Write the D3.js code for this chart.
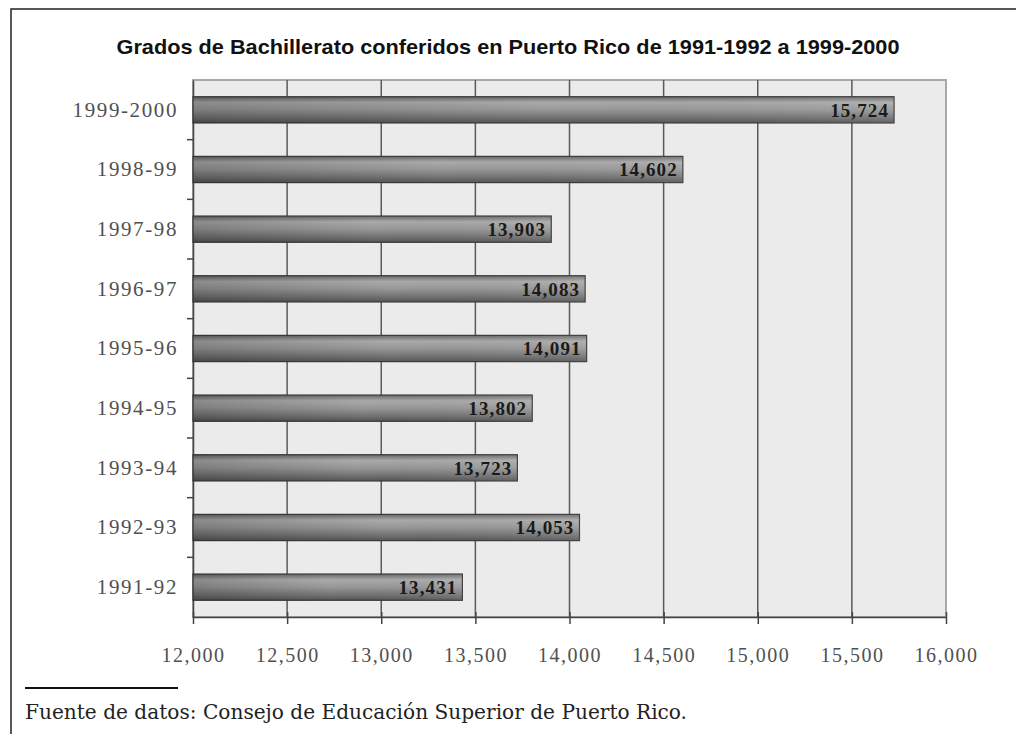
<!DOCTYPE html>
<html><head><meta charset="utf-8">
<script src="https://cdn.jsdelivr.net/npm/d3@7/dist/d3.min.js"></script>
<style>html,body{margin:0;padding:0;background:#fff;}svg{display:block;}</style>
</head><body>
<svg id="c" width="1016" height="734"></svg>
<script>
const categories = ["1999-2000","1998-99","1997-98","1996-97","1995-96","1994-95","1993-94","1992-93","1991-92"];
const values = [15724,14602,13903,14083,14091,13802,13723,14053,13431];
const tickValues = [12000,12500,13000,13500,14000,14500,15000,15500,16000];
const titleText = "Grados de Bachillerato conferidos en Puerto Rico de 1991-1992 a 1999-2000";
const sourceText = "Fuente de datos: Consejo de Educación Superior de Puerto Rico.";

const svg = d3.select("#c");
const m = {left:193, right:946, top:80, bottom:617};

const fmt = d3.format(",");
const x = d3.scaleLinear().domain([12000,16000]).range([m.left, m.right]);
const y = d3.scaleBand().domain(categories).range([m.top, m.bottom]).paddingInner(0.56).paddingOuter(0.28);

// frame
svg.append("path").attr("d","M11,734 L11,9 L1016,9").attr("fill","none").attr("stroke","#222").attr("stroke-width",1.5);

// title
svg.append("text").attr("x",508).attr("y",54).attr("text-anchor","middle")
  .attr("font-family","Liberation Sans, Arial, sans-serif").attr("font-weight","bold")
  .attr("font-size",21).attr("fill","#111")
  .attr("textLength",783).attr("lengthAdjust","spacingAndGlyphs").text(titleText);

// gradient
const defs = svg.append("defs");
const g = defs.append("linearGradient").attr("id","bar").attr("x1",0).attr("y1",0).attr("x2",0).attr("y2",1);
[[0,"#686868"],[0.22,"#aaaaaa"],[0.5,"#979797"],[0.8,"#727272"],[1,"#555555"]].forEach(([o,c])=>g.append("stop").attr("offset",o).attr("stop-color",c));
const gh = defs.append("linearGradient").attr("id","barh").attr("x1",0).attr("y1",0).attr("x2",1).attr("y2",0);
[[0,"#000",0.18],[0.5,"#000",0.0],[1,"#fff",0.08]].forEach(([o,c,a])=>gh.append("stop").attr("offset",o).attr("stop-color",c).attr("stop-opacity",a));

// plot background
svg.append("rect").attr("x",m.left).attr("y",m.top).attr("width",m.right-m.left).attr("height",m.bottom-m.top)
  .attr("fill","#ebebeb").attr("stroke","#a8a8a8").attr("stroke-width",2);

// gridlines
svg.append("g").selectAll("line").data(tickValues.slice(1,-1)).join("line")
  .attr("x1",d=>x(d)).attr("x2",d=>x(d)).attr("y1",m.top).attr("y2",m.bottom)
  .attr("stroke","#5a5a5a").attr("stroke-width",1.5);

const serif = "Liberation Serif, Times New Roman, serif";

// x axis
const xAxis = svg.append("g").attr("transform",`translate(0,${m.bottom})`)
  .call(d3.axisBottom(x).tickValues(tickValues).tickFormat(fmt).tickSizeInner(7).tickSizeOuter(0).tickPadding(24));
xAxis.select(".domain").attr("stroke","#444").attr("stroke-width",1.5);
xAxis.selectAll(".tick line").attr("stroke","#444").attr("stroke-width",1.5).attr("y1",-5).attr("y2",7);
xAxis.selectAll("text").attr("font-family",serif).attr("font-size",20).attr("letter-spacing",1.5).attr("fill","#505050");

// y axis
const yAxis = svg.append("g").attr("transform",`translate(${m.left},0)`)
  .call(d3.axisLeft(y).tickSize(0).tickPadding(15));
yAxis.select(".domain").attr("stroke","#444").attr("stroke-width",1.5);
yAxis.selectAll("text").attr("font-family",serif).attr("font-size",21).attr("letter-spacing",1.6).attr("fill","#505050");
// boundary ticks
const step = y.step();
svg.append("g").selectAll("line").data(categories.slice(1)).join("line")
  .attr("x1",m.left-6).attr("x2",m.left).attr("y1",d=>y(d)-y.paddingInner()*step/2).attr("y2",d=>y(d)-y.paddingInner()*step/2)
  .attr("stroke","#444").attr("stroke-width",1.5);

// bars
const bars = svg.append("g").selectAll("g").data(categories.map((c,i)=>({c,v:values[i]}))).join("g");
bars.append("rect").attr("x",x(12000)).attr("y",d=>y(d.c)).attr("width",d=>x(d.v)-x(12000)).attr("height",y.bandwidth())
  .attr("fill","url(#bar)").attr("stroke","#3a3a3a").attr("stroke-width",1.2);
bars.append("rect").attr("x",x(12000)).attr("y",d=>y(d.c)).attr("width",d=>x(d.v)-x(12000)).attr("height",y.bandwidth())
  .attr("fill","url(#barh)");
bars.append("text").attr("x",d=>x(d.v)-5).attr("y",d=>y(d.c)+y.bandwidth()/2).attr("dy","0.36em")
  .attr("text-anchor","end").attr("font-family",serif).attr("font-weight","bold")
  .attr("font-size",19).attr("letter-spacing",1.1).attr("fill","#1a1a1a").text(d=>fmt(d.v));

// source
svg.append("line").attr("x1",25).attr("x2",178).attr("y1",688).attr("y2",688).attr("stroke","#111").attr("stroke-width",2);
svg.append("text").attr("x",25).attr("y",719).attr("font-family","DejaVu Serif, serif").attr("font-size",20)
  .attr("fill","#222").attr("textLength",662).attr("lengthAdjust","spacingAndGlyphs").text(sourceText);
</script>
</body></html>
